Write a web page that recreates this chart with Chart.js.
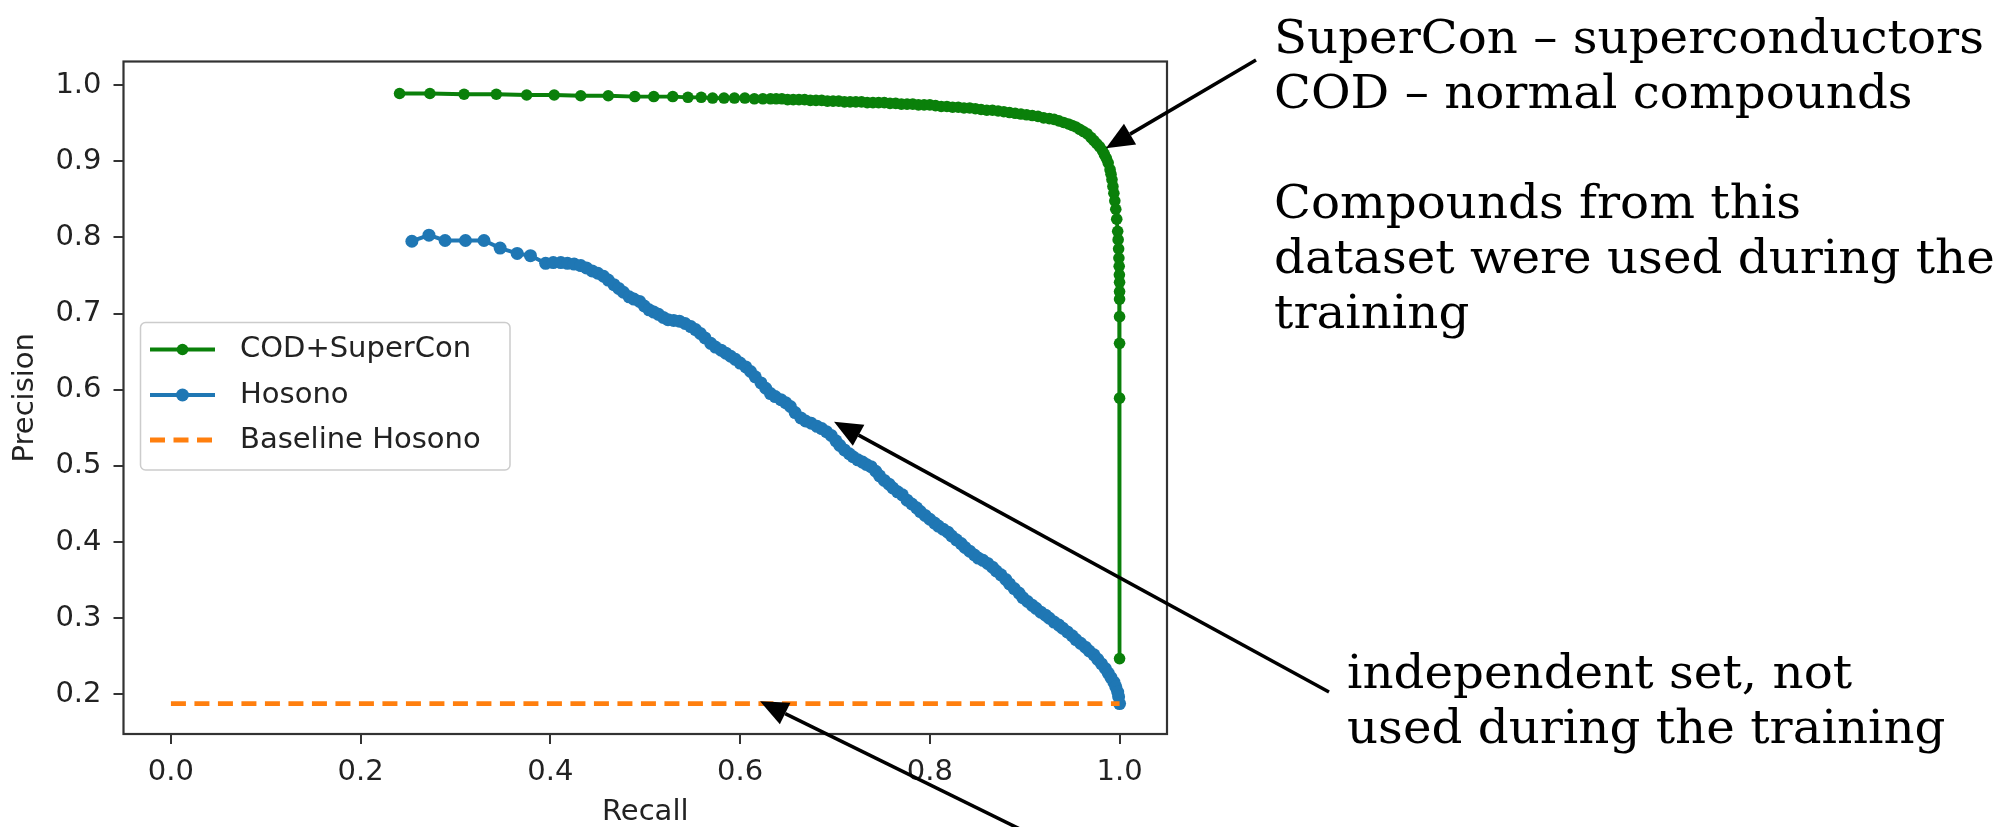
<!DOCTYPE html>
<html><head><meta charset="utf-8">
<script src="https://cdn.jsdelivr.net/npm/chart.js@4.4.1/dist/chart.umd.min.js"></script>
<style>
html,body{margin:0;padding:0;background:#fff;}
#wrap{position:relative;width:1998px;height:827px;overflow:hidden;background:#fff;}
#c{position:absolute;left:0;top:0;}
.note{position:absolute;font-family:'DejaVu Serif',serif;font-size:46px;line-height:55px;color:#000;white-space:pre;transform:scaleX(1.05);transform-origin:0 0;}
</style></head><body>
<div id="wrap">
<canvas id="c" width="1998" height="827"></canvas>
<div class="note" style="left:1274px;top:10.1px">SuperCon – superconductors
COD – normal compounds

Compounds from this
dataset were used during the
training</div>
<div class="note" style="left:1347px;top:645px">independent set, not
used during the training</div>
</div>
<script>
// ---------- DATA ----------
const xTicks = [0.0, 0.2, 0.4, 0.6, 0.8, 1.0];
const yTicks = [0.2, 0.3, 0.4, 0.5, 0.6, 0.7, 0.8, 0.9, 1.0];
const seriesNames = ['COD+SuperCon', 'Hosono', 'Baseline Hosono'];

const codRecall = [0.241,0.273,0.309,0.343,0.375,0.404,0.432,0.461,0.489,0.509,0.529,0.545,0.559,0.571,0.583,0.594,0.605,0.615,0.624,0.632,
0.638,0.644,0.650,0.656,0.662,0.668,0.674,0.680,0.686,0.692,0.698,0.704,0.710,0.716,0.722,0.728,0.734,0.740,0.746,0.752,
0.758,0.764,0.770,0.776,0.782,0.788,0.794,0.800,0.806,0.812,0.818,0.824,0.830,0.836,0.842,0.848,0.854,0.860,0.866,0.872,
0.878,0.884,0.890,0.896,0.902,0.908,0.914,0.920,0.926,0.931,0.936,0.941,0.946,0.950,0.954,0.958,0.962,0.966,0.970,0.973,
0.976,0.979,0.982,0.984,0.986,0.988,0.990,0.991,0.992,0.993,0.994,0.995,0.996,0.997,0.998,0.9985,0.999,0.9993,0.9996,0.9998,
1.0,1.0,1.0,1.0,1.0,1.0,1.0];
const codPrecision = [0.989,0.989,0.988,0.988,0.987,0.987,0.986,0.986,0.985,0.985,0.985,0.984,0.984,0.983,0.983,0.983,0.983,0.982,0.982,0.982,
0.982,0.982,0.981,0.981,0.981,0.981,0.980,0.980,0.980,0.979,0.979,0.979,0.978,0.978,0.978,0.978,0.977,0.977,0.977,0.977,
0.976,0.976,0.975,0.975,0.975,0.974,0.974,0.974,0.973,0.972,0.972,0.971,0.971,0.970,0.970,0.969,0.968,0.967,0.967,0.966,
0.965,0.964,0.963,0.962,0.961,0.960,0.959,0.957,0.956,0.955,0.953,0.951,0.949,0.947,0.945,0.942,0.939,0.936,0.931,0.927,
0.923,0.919,0.914,0.909,0.904,0.898,0.889,0.883,0.876,0.867,0.858,0.848,0.837,0.824,0.808,0.797,0.785,0.773,0.762,0.751,
0.741,0.729,0.719,0.696,0.661,0.589,0.247];

const hosonoRecall = [0.254,0.272,0.289,0.3105,0.330,0.347,0.365,0.379,0.395,0.403,0.411,0.418,0.425,0.432,
0.438,0.444,0.450,0.456,0.461,0.467,0.472,0.477,0.483,0.488,0.494,0.499,0.504,0.509,0.514,0.519,0.524,0.530,0.536,0.542,
0.548,0.553,0.558,0.563,0.569,0.574,0.580,0.585,0.590,0.595,0.600,0.606,0.611,0.616,0.622,0.627,0.632,0.637,0.643,0.648,
0.653,0.658,0.664,0.669,0.675,0.681,0.686,0.691,0.696,0.701,0.705,0.710,0.715,0.719,0.724,0.729,0.733,0.738,0.743,0.747,
0.752,0.757,0.761,0.766,0.771,0.776,0.781,0.786,0.790,0.795,0.800,0.805,0.809,0.814,0.819,0.823,0.828,0.833,0.837,0.842,
0.847,0.851,0.856,0.861,0.866,0.870,0.875,0.880,0.884,0.889,0.894,0.898,0.903,0.908,0.912,0.917,0.922,0.926,0.931,0.936,
0.940,0.945,0.950,0.954,0.959,0.964,0.968,0.973,0.977,0.981,0.985,0.988,0.991,0.994,0.996,0.998,0.999,1.0];
const hosonoPrecision = [0.795,0.803,0.796,0.796,0.796,0.786,0.779,0.776,0.766,0.767,0.767,0.766,0.765,0.763,
0.760,0.756,0.753,0.749,0.744,0.738,0.733,0.728,0.722,0.719,0.716,0.710,0.705,0.702,0.699,0.695,0.692,0.691,0.690,0.687,
0.683,0.679,0.674,0.668,0.661,0.656,0.652,0.648,0.644,0.640,0.635,0.630,0.624,0.617,0.609,0.602,0.595,0.591,0.587,0.583,
0.578,0.570,0.563,0.559,0.556,0.552,0.549,0.545,0.540,0.533,0.527,0.521,0.516,0.512,0.508,0.505,0.502,0.499,0.493,0.487,
0.481,0.476,0.471,0.466,0.462,0.455,0.450,0.445,0.440,0.435,0.430,0.425,0.421,0.417,0.413,0.408,0.403,0.398,0.393,0.388,
0.383,0.379,0.376,0.372,0.367,0.362,0.357,0.351,0.345,0.339,0.333,0.327,0.322,0.317,0.313,0.308,0.304,0.300,0.295,0.291,
0.287,0.282,0.277,0.272,0.267,0.262,0.257,0.252,0.246,0.240,0.234,0.228,0.222,0.216,0.210,0.203,0.197,0.188];

const baselineRecall = [0.0, 1.0];
const baselinePrecision = [0.188, 0.188];

// ---------- helpers ----------
const toXY = (xs, ys) => xs.map((x, i) => ({x: x, y: ys[i]}));
const FONT = 'DejaVu Sans';
const GREEN = '#0a800a', BLUE = '#1f77b4', ORANGE = '#ff7f0e';

const framePlugin = {
  id: 'frame',
  afterDatasetsDraw(chart) {
    const a = chart.chartArea, ctx = chart.ctx;
    ctx.save();
    ctx.strokeStyle = '#333';
    ctx.lineWidth = 2.2;
    ctx.strokeRect(a.left, a.top, a.right - a.left, a.bottom - a.top);
    ctx.restore();
  }
};

const legendPlugin = {
  id: 'boxLegend',
  afterDatasetsDraw(chart) {
    const ctx = chart.ctx;
    const bx = 140.5, by = 322.5, bw = 369.5, bh = 147.5, r = 5;
    const rows = [349.5, 395, 440];
    ctx.save();
    ctx.beginPath();
    ctx.moveTo(bx + r, by);
    ctx.arcTo(bx + bw, by, bx + bw, by + bh, r);
    ctx.arcTo(bx + bw, by + bh, bx, by + bh, r);
    ctx.arcTo(bx, by + bh, bx, by, r);
    ctx.arcTo(bx, by, bx + bw, by, r);
    ctx.closePath();
    ctx.fillStyle = 'rgba(255,255,255,0.8)';
    ctx.fill();
    ctx.strokeStyle = '#cccccc';
    ctx.lineWidth = 1.5;
    ctx.stroke();
    chart.data.datasets.forEach((ds, i) => {
      const y = rows[i];
      ctx.beginPath();
      ctx.setLineDash(ds.borderDash || []);
      ctx.strokeStyle = ds.borderColor;
      ctx.lineWidth = ds.borderWidth;
      ctx.moveTo(150, y);
      ctx.lineTo(215, y);
      ctx.stroke();
      ctx.setLineDash([]);
      if (ds.pointRadius > 0) {
        ctx.beginPath();
        ctx.fillStyle = ds.borderColor;
        ctx.arc(182.5, y, ds.pointRadius, 0, Math.PI * 2);
        ctx.fill();
      }
      ctx.fillStyle = '#222';
      ctx.font = '29px "' + FONT + '"';
      ctx.textBaseline = 'middle';
      ctx.textAlign = 'left';
      ctx.fillText(ds.label, 240, y);
    });
    ctx.restore();
  }
};

const arrowPlugin = {
  id: 'arrows',
  afterDraw(chart) {
    const ctx = chart.ctx, xs = chart.scales.x, ys = chart.scales.y;
    const arrows = [
      {tip: [0.9856, 0.917], tail: [1256, 60]},
      {tip: [0.699, 0.558], tail: [1329, 692]},
      {tip: [0.621, 0.191], tail: [1028, 833]}
    ];
    ctx.save();
    ctx.strokeStyle = '#000';
    ctx.fillStyle = '#000';
    ctx.lineWidth = 3.5;
    arrows.forEach(a => {
      const tx = xs.getPixelForValue(a.tip[0]), ty = ys.getPixelForValue(a.tip[1]);
      const [sx, sy] = a.tail;
      const ang = Math.atan2(sy - ty, sx - tx);
      const hl = 28, hw = 12;
      const bxp = tx + Math.cos(ang) * hl, byp = ty + Math.sin(ang) * hl;
      ctx.beginPath();
      ctx.moveTo(sx, sy);
      ctx.lineTo(bxp, byp);
      ctx.stroke();
      ctx.beginPath();
      ctx.moveTo(tx, ty);
      ctx.lineTo(bxp - Math.sin(ang) * hw, byp + Math.cos(ang) * hw);
      ctx.lineTo(bxp + Math.sin(ang) * hw, byp - Math.cos(ang) * hw);
      ctx.closePath();
      ctx.fill();
    });
    ctx.restore();
  }
};

new Chart(document.getElementById('c'), {
  type: 'line',
  data: {
    datasets: [
      {label: seriesNames[0], data: toXY(codRecall, codPrecision), borderColor: GREEN, backgroundColor: GREEN,
       borderWidth: 3.8, pointRadius: 5.8, pointBorderWidth: 0, pointBackgroundColor: GREEN, tension: 0, fill: false, order: 3},
      {label: seriesNames[1], data: toXY(hosonoRecall, hosonoPrecision), borderColor: BLUE, backgroundColor: BLUE,
       borderWidth: 4, pointRadius: 6.5, pointBorderWidth: 0, pointBackgroundColor: BLUE, tension: 0, fill: false, order: 2},
      {label: seriesNames[2], data: toXY(baselineRecall, baselinePrecision), borderColor: ORANGE, backgroundColor: ORANGE,
       borderWidth: 4.8, borderDash: [15, 8.5], pointRadius: 0, tension: 0, fill: false, order: 1}
    ]
  },
  options: {
    responsive: false,
    animation: false,
    devicePixelRatio: 1,
    layout: {padding: {left: 0, right: 831, top: 61.5, bottom: 0}},
    plugins: {legend: {display: false}, tooltip: {enabled: false}},
    scales: {
      x: {
        type: 'linear', min: -0.05, max: 1.05,
        afterBuildTicks: s => { s.ticks = xTicks.map(v => ({value: v})); },
        afterFit: s => { s.height = 93; },
        ticks: {callback: v => Number(v).toFixed(1), font: {family: FONT, size: 29}, color: '#222', padding: 11, autoSkip: false, maxRotation: 0},
        grid: {display: true, drawOnChartArea: false, drawTicks: true, tickLength: 10, color: '#333', lineWidth: 2},
        border: {display: false},
        title: {display: true, text: 'Recall', font: {family: FONT, size: 29, lineHeight: 1}, color: '#222', padding: {top: 0, bottom: 0}}
      },
      y: {
        type: 'linear', min: 0.148, max: 1.031,
        afterBuildTicks: s => { s.ticks = yTicks.map(v => ({value: v})); },
        afterFit: s => { s.width = 123.5; },
        ticks: {callback: v => Number(v).toFixed(1), font: {family: FONT, size: 29}, color: '#222', padding: 12, autoSkip: false},
        grid: {display: true, drawOnChartArea: false, drawTicks: true, tickLength: 10, color: '#333', lineWidth: 2},
        border: {display: false},
        title: {display: true, text: 'Precision', font: {family: FONT, size: 29, lineHeight: 1}, color: '#222', padding: {top: 11, bottom: 0}}
      }
    }
  },
  plugins: [framePlugin, legendPlugin, arrowPlugin]
});
</script>
</body></html>
